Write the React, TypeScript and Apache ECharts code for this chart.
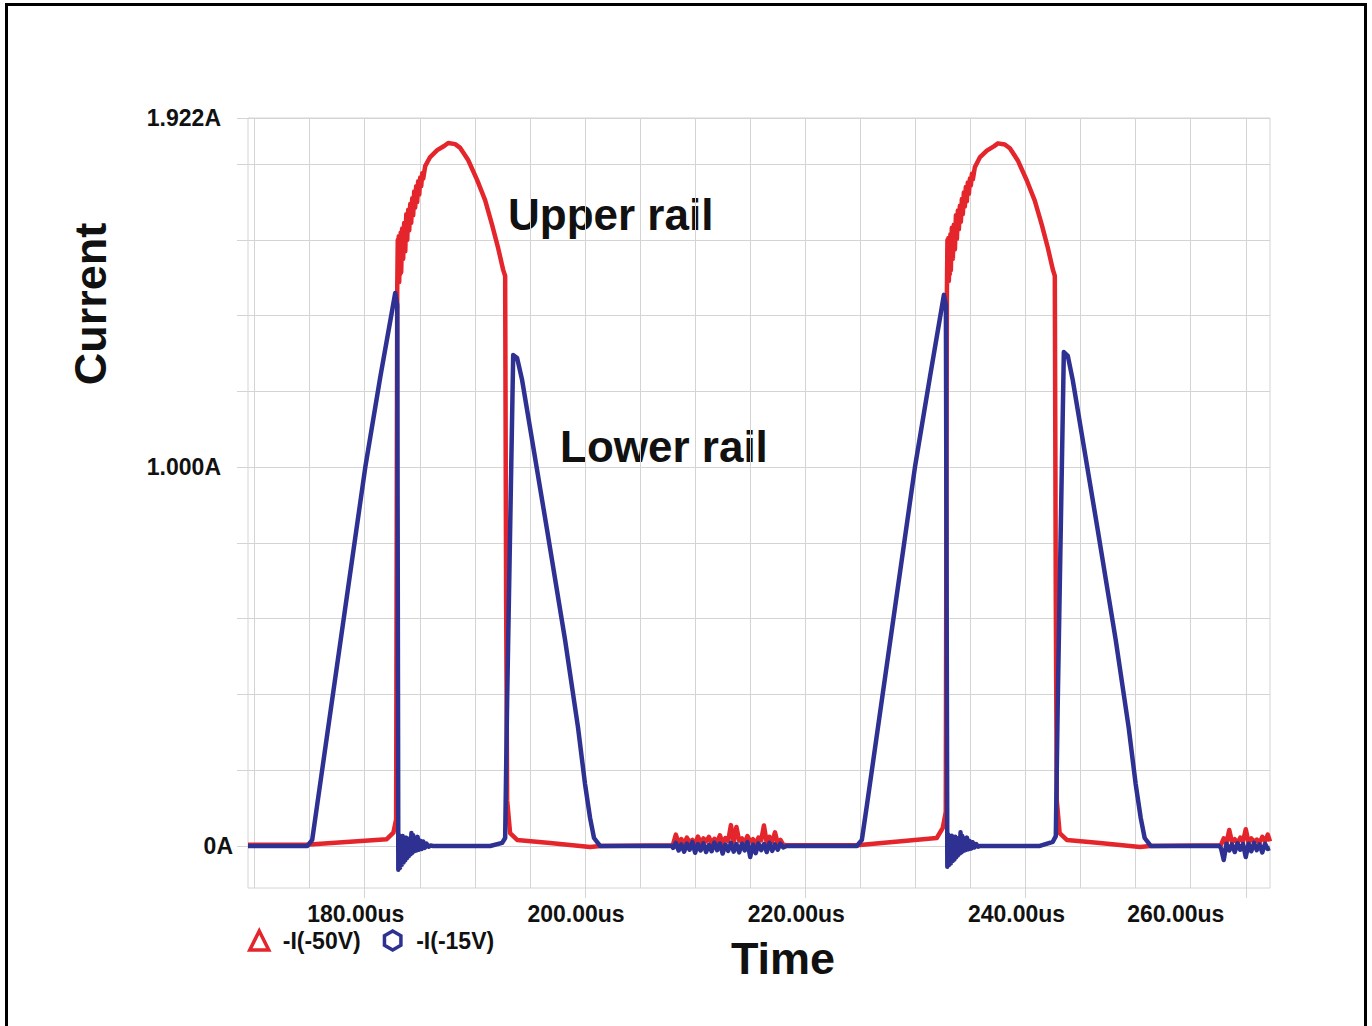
import { useEffect, useRef } from 'react';
import * as echarts from 'echarts';

const FONT = "'Liberation Sans', Arial, Helvetica, sans-serif";
const RED = '#e4252b';
const BLUE = '#2e3192';
const GRID = '#d4d4d4';
const INK = '#111111';

const seriesNames = ['-I(-50V)', '-I(-15V)'];

// axis ranges (us, A)
const xMin = 169.4;
const xMax = 262.2;
const yMin = -0.111;
const yMax = 1.922;

const xGridValues = [170, 175, 180, 185, 190, 195, 200, 205, 210, 215, 220, 225, 230, 235, 240, 245, 250, 255, 260];
const xLabelValues = [180, 200, 220, 240, 260];
const xLabelTexts = ['180.00us', '200.00us', '220.00us', '240.00us', '260.00us'];
const yGridValues = [0, 0.2, 0.4, 0.6, 0.8, 1.0, 1.2, 1.4, 1.6, 1.8, 1.922];
const yLabelValues = [0, 1, 1.922];
const yLabelTexts = ['0A', '1.000A', '1.922A'];

// ---------- -I(-50V) (red) ----------
const redLead1 = [[169.4, 0.003], [175.0, 0.004], [182.0, 0.018], [182.6, 0.035], [182.85, 0.07]];
const redPulse1 = [
  [182.95, 1.468], [183.0, 1.6], [183.04, 1.49], [183.09, 1.61], [183.13, 1.489], [183.18, 1.6],
  [183.22, 1.51], [183.27, 1.62], [183.31, 1.515], [183.4, 1.63], [183.49, 1.55], [183.58, 1.645],
  [183.68, 1.57], [183.77, 1.668], [183.86, 1.6], [183.95, 1.68], [184.04, 1.625], [184.13, 1.695],
  [184.22, 1.645], [184.31, 1.71], [184.4, 1.665], [184.49, 1.728], [184.58, 1.685], [184.67, 1.742],
  [184.76, 1.7], [184.85, 1.755], [184.95, 1.72], [185.04, 1.765], [185.13, 1.742], [185.22, 1.776],
  [185.31, 1.762], [185.49, 1.795], [185.94, 1.819], [186.58, 1.837], [187.21, 1.848], [187.58, 1.856],
  [188.21, 1.853], [188.67, 1.843], [189.39, 1.811], [190.21, 1.758], [190.93, 1.705], [191.57, 1.639],
  [192.11, 1.579], [192.57, 1.521], [192.75, 1.505], [192.84, 0.649], [192.93, 0.121], [193.2, 0.034],
  [193.84, 0.016], [196.83, 0.008], [200.46, -0.003], [201.4, 0.0], [207.9, 0.002],
];
const redNoise1Start = 208.0;
const redNoise1 = [
  0.004, 0.03, 0.008, 0.018, 0.006, 0.022, 0.01, 0.016, 0.005, 0.025, 0.009, 0.02, 0.012, 0.024,
  0.006, 0.019, 0.011, 0.028, 0.007, 0.021, 0.013, 0.055, 0.01, 0.05, 0.014, 0.02, 0.008, 0.026,
  0.012, 0.018, 0.006, 0.022, 0.015, 0.054, 0.009, 0.024, 0.011, 0.036, 0.007, 0.016, 0.003,
];
const redLead2 = [[218.3, 0.002], [224.7, 0.002], [225.2, 0.003], [231.94, 0.021], [232.49, 0.048], [232.76, 0.09]];
const redPulse2 = [
  [232.86, 1.46], [232.91, 1.6], [232.95, 1.49], [233.0, 1.605], [233.04, 1.492], [233.09, 1.6],
  [233.13, 1.51], [233.18, 1.615], [233.22, 1.52], [233.31, 1.632], [233.4, 1.55], [233.49, 1.64],
  [233.59, 1.575], [233.68, 1.665], [233.77, 1.603], [233.86, 1.678], [233.95, 1.628], [234.04, 1.69],
  [234.13, 1.648], [234.22, 1.708], [234.31, 1.668], [234.4, 1.725], [234.49, 1.688], [234.58, 1.74],
  [234.67, 1.702], [234.76, 1.752], [234.86, 1.722], [234.95, 1.762], [235.04, 1.744], [235.13, 1.775],
  [235.22, 1.76], [235.4, 1.792], [235.85, 1.818], [236.49, 1.836], [237.12, 1.847], [237.5, 1.855],
  [238.12, 1.852], [238.58, 1.842], [239.3, 1.81], [240.12, 1.757], [240.84, 1.704], [241.48, 1.64],
  [242.02, 1.58], [242.48, 1.522], [242.66, 1.505], [242.75, 0.65], [242.84, 0.12], [243.1, 0.034],
  [243.75, 0.016], [246.75, 0.008], [250.4, -0.003], [251.3, 0.0], [257.6, 0.002],
];
const redNoise2Start = 257.75;
const redNoise2 = [
  0.003, 0.02, 0.008, 0.042, 0.01, 0.018, 0.007, 0.022, 0.012, 0.044, 0.009, 0.02, 0.011, 0.017,
  0.008, 0.024, 0.013, 0.03,
];
const redTail = [[262.2, 0.012]];

// ---------- -I(-15V) (blue) ----------
const blueRamp1 = [
  [169.4, 0.0], [174.78, 0.0], [175.23, 0.016], [175.68, 0.108], [180.05, 1.0], [181.41, 1.238],
  [182.77, 1.46], [182.95, 1.428],
];
const blueRing1 = [
  [183.05, -0.063], [183.12, 0.028], [183.2, -0.058], [183.28, 0.022], [183.36, -0.05], [183.44, 0.026],
  [183.52, -0.044], [183.6, 0.018], [183.68, -0.038], [183.76, 0.022], [183.84, -0.032], [183.92, 0.016],
  [184.0, -0.027], [184.08, 0.02], [184.16, -0.022], [184.24, 0.034], [184.32, -0.018], [184.4, 0.028],
  [184.48, -0.014], [184.58, 0.022], [184.68, -0.012], [184.8, 0.024], [184.92, -0.01], [185.04, 0.014],
  [185.16, -0.008], [185.3, 0.012], [185.45, -0.005], [185.6, 0.006], [185.8, -0.002], [186.0, 0.001],
];
const blueHump1 = [
  [186.2, 0.0], [191.39, 0.0], [192.48, 0.008], [192.75, 0.021], [192.93, 0.385], [193.48, 1.296],
  [193.84, 1.288], [194.29, 1.23], [196.56, 0.834], [198.19, 0.544], [199.37, 0.312], [200.0, 0.164],
  [200.46, 0.074], [200.82, 0.021], [201.37, 0.0], [207.9, 0.0],
];
const blueNoise1Start = 208.0;
const blueNoise1 = [
  -0.005, 0.008, -0.012, 0.004, -0.015, 0.006, -0.01, 0.01, -0.018, 0.005, -0.012, 0.007, -0.016, 0.003,
  -0.014, 0.009, -0.011, 0.006, -0.02, 0.004, -0.013, 0.008, -0.015, 0.005, -0.017, 0.006, -0.012, 0.01,
  -0.029, 0.004, -0.019, 0.007, -0.011, 0.005, -0.016, 0.008, -0.013, 0.004, -0.01, 0.006, -0.004,
];
const blueRamp2 = [
  [218.3, 0.0], [224.69, 0.0], [225.14, 0.016], [225.6, 0.108], [229.96, 1.0], [231.32, 1.238],
  [232.59, 1.455], [232.77, 1.428],
];
const blueRing2 = [
  [232.9, -0.055], [232.98, 0.03], [233.06, -0.05], [233.14, 0.024], [233.22, -0.046], [233.3, 0.027],
  [233.38, -0.04], [233.46, 0.02], [233.54, -0.036], [233.62, 0.024], [233.7, -0.03], [233.78, 0.018],
  [233.86, -0.025], [233.94, 0.021], [234.02, -0.02], [234.1, 0.036], [234.18, -0.017], [234.26, 0.026],
  [234.36, -0.013], [234.46, 0.02], [234.56, -0.011], [234.68, 0.022], [234.8, -0.009], [234.92, 0.013],
  [235.06, -0.007], [235.2, 0.01], [235.36, -0.004], [235.52, 0.005], [235.7, -0.002], [235.9, 0.0],
];
const blueHump2 = [
  [236.1, 0.0], [241.3, 0.0], [242.48, 0.011], [242.75, 0.026], [242.93, 0.385], [243.48, 1.304],
  [243.84, 1.294], [244.29, 1.23], [246.56, 0.834], [248.19, 0.544], [249.37, 0.312], [250.0, 0.164],
  [250.46, 0.074], [250.82, 0.021], [251.37, 0.0], [257.6, 0.0],
];
const blueNoise2Start = 257.75;
const blueNoise2 = [
  -0.006, -0.037, 0.006, -0.012, 0.004, -0.016, 0.007, -0.01, 0.005, -0.029, 0.006, -0.014, 0.008, -0.011,
  0.004, -0.017, 0.006, -0.008,
];
const blueTail = [[262.2, -0.006]];

const NOISE_STEP = 0.25;

function sampled(start: number, values: number[]): number[][] {
  return values.map((v, i) => [start + i * NOISE_STEP, v]);
}

const redData = [
  ...redLead1, ...redPulse1, ...sampled(redNoise1Start, redNoise1), ...redLead2, ...redPulse2,
  ...sampled(redNoise2Start, redNoise2), ...redTail,
];
const blueData = [
  ...blueRamp1, ...blueRing1, ...blueHump1, ...sampled(blueNoise1Start, blueNoise1), ...blueRamp2,
  ...blueRing2, ...blueHump2, ...sampled(blueNoise2Start, blueNoise2), ...blueTail,
];

const HEX = 'path://M8.66,0 L17.32,5 L17.32,15 L8.66,20 L0,15 L0,5 Z';

function labelIndex(values: number[], v: number): number {
  for (let i = 0; i < values.length; i++) {
    if (Math.abs(values[i] - v) < 1e-6) return i;
  }
  return -1;
}

export default function App() {
  const ref = useRef<HTMLDivElement>(null);

  useEffect(() => {
    if (!ref.current) return;
    const chart = echarts.init(ref.current, null, { renderer: 'svg' });

    const textBase = { fontFamily: FONT, color: INK, fontWeight: 'bold' as const };

    const option: any = {
      animation: false,
      backgroundColor: '#ffffff',
      grid: {
        left: 248,
        top: 118,
        right: 102,
        bottom: 138,
        show: true,
        borderColor: GRID,
        borderWidth: 1,
        containLabel: false,
        outerBoundsMode: 'none',
      },
      xAxis: [
        {
          type: 'value',
          min: xMin,
          max: xMax,
          position: 'bottom',
          axisLine: { show: false },
          axisTick: { show: false, customValues: xGridValues },
          axisLabel: { show: false },
          splitLine: { show: true, lineStyle: { color: GRID, width: 1 } },
        },
        {
          type: 'value',
          min: xMin,
          max: xMax,
          position: 'bottom',
          axisLine: { show: false },
          axisTick: { show: true, customValues: xLabelValues, length: 10, lineStyle: { color: GRID, width: 1 } },
          axisLabel: {
            show: true,
            customValues: xLabelValues,
            margin: 14,
            formatter: (v: number) => {
              const i = labelIndex(xLabelValues, v);
              if (i < 0) return '';
              return i === xLabelValues.length - 1 ? `{far|${xLabelTexts[i]}}` : `{n|${xLabelTexts[i]}}`;
            },
            rich: {
              n: { ...textBase, fontSize: 23, padding: [0, 18, 0, 0] },
              far: { ...textBase, fontSize: 23, padding: [0, 140, 0, 0] },
            },
          },
          splitLine: { show: false },
        },
      ],
      yAxis: {
        type: 'value',
        min: yMin,
        max: yMax,
        axisLine: { show: false },
        axisTick: { show: true, customValues: yGridValues, length: 11, lineStyle: { color: GRID, width: 1 } },
        splitLine: { show: true, lineStyle: { color: GRID, width: 1 } },
        axisLabel: {
          show: true,
          customValues: yLabelValues,
          margin: 15,
          formatter: (v: number) => {
            const i = labelIndex(yLabelValues, v);
            if (i < 0) return '';
            return i === 0 ? `{z|${yLabelTexts[i]}}` : `{p|${yLabelTexts[i]}}`;
          },
          rich: {
            z: { ...textBase, fontSize: 23 },
            p: { ...textBase, fontSize: 23, padding: [0, 12, 0, 0] },
          },
        },
      },
      legend: {
        left: 243,
        top: 924,
        orient: 'horizontal',
        itemWidth: 19,
        itemHeight: 19,
        itemGap: 22,
        selectedMode: false,
        textStyle: { ...textBase, fontSize: 23, padding: [0, 0, 0, 9] },
        data: [
          { name: seriesNames[0], icon: 'triangle', itemStyle: { color: '#ffffff', borderColor: RED, borderWidth: 3.5 } },
          { name: seriesNames[1], icon: HEX, itemStyle: { color: '#ffffff', borderColor: BLUE, borderWidth: 3.5 } },
        ],
      },
      series: [
        {
          type: 'line',
          name: seriesNames[0],
          xAxisIndex: 1,
          data: redData,
          showSymbol: false,
          symbol: 'none',
          lineStyle: { color: RED, width: 4.5, join: 'round' },
          itemStyle: { color: RED },
          z: 2,
        },
        {
          type: 'line',
          name: seriesNames[1],
          xAxisIndex: 0,
          data: blueData,
          showSymbol: false,
          symbol: 'none',
          lineStyle: { color: BLUE, width: 4.5, join: 'round' },
          itemStyle: { color: BLUE },
          z: 3,
        },
      ],
      graphic: [
        {
          type: 'rect',
          silent: true,
          shape: { x: 6.5, y: 4.5, width: 1359, height: 1040 },
          style: { fill: 'none', stroke: '#000000', lineWidth: 3 },
        },
        {
          type: 'text',
          x: 90,
          y: 304,
          rotation: Math.PI / 2,
          style: {
            text: 'Current', fontSize: 45, fontFamily: FONT, fontWeight: 'bold', fill: INK,
            align: 'center', verticalAlign: 'middle', textAlign: 'center', textVerticalAlign: 'middle',
          },
        },
        {
          type: 'text',
          x: 783,
          y: 958,
          style: {
            text: 'Time', fontSize: 45, fontFamily: FONT, fontWeight: 'bold', fill: INK,
            align: 'center', verticalAlign: 'middle', textAlign: 'center', textVerticalAlign: 'middle',
          },
        },
        {
          type: 'text',
          x: 508,
          y: 214,
          style: {
            text: 'Upper rail', fontSize: 44, fontFamily: FONT, fontWeight: 'bold', fill: INK,
            align: 'left', verticalAlign: 'middle', textAlign: 'left', textVerticalAlign: 'middle',
          },
        },
        {
          type: 'text',
          x: 560,
          y: 446,
          style: {
            text: 'Lower rail', fontSize: 44, fontFamily: FONT, fontWeight: 'bold', fill: INK,
            align: 'left', verticalAlign: 'middle', textAlign: 'left', textVerticalAlign: 'middle',
          },
        },
      ],
    };

    chart.setOption(option);
    return () => chart.dispose();
  }, []);

  return (
    <div
      ref={ref}
      style={{ position: 'absolute', left: 0, top: 0, width: 1372, height: 1026, background: '#fff' }}
    />
  );
}
